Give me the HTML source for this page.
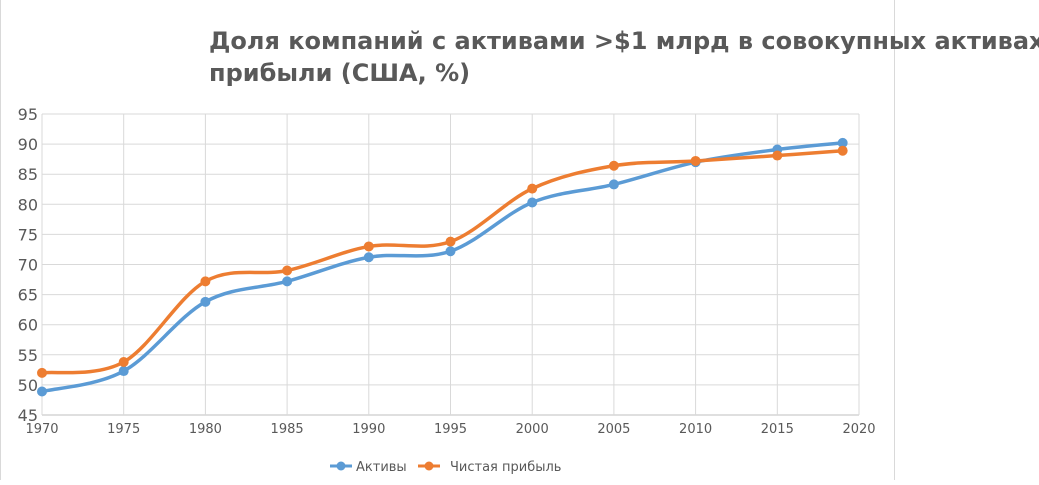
<!DOCTYPE html>
<html><head><meta charset="utf-8"><style>
body{margin:0;background:#fff;font-family:"Liberation Sans","DejaVu Sans",sans-serif;}
svg text{font-family:"DejaVu Sans","Liberation Sans",sans-serif;}
</style></head><body>
<svg width="1039" height="480" xmlns="http://www.w3.org/2000/svg">
<rect x="0" y="0" width="1039" height="480" fill="#fff"/>
<line x1="0.5" y1="0" x2="0.5" y2="480" stroke="#d9d9d9"/>
<line x1="894.5" y1="0" x2="894.5" y2="480" stroke="#d9d9d9"/>
<text x="209" y="49" font-size="24" font-weight="bold" fill="#595959">Доля компаний с активами &gt;$1 млрд в совокупных активах и</text>
<text x="209" y="81" font-size="24" font-weight="bold" fill="#595959">прибыли (США, %)</text>
<g id="grid"></g><g id="axes"></g><g id="series"></g>
<g>
<line x1="330" y1="466" x2="352" y2="466" stroke="#5b9bd5" stroke-width="3"/>
<circle cx="341" cy="466" r="4.5" fill="#5b9bd5"/>
<text x="356" y="471" font-size="13" fill="#595959">Активы</text>
<line x1="418" y1="466" x2="440" y2="466" stroke="#ed7d31" stroke-width="3"/>
<circle cx="429" cy="466" r="4.5" fill="#ed7d31"/>
<text x="450" y="471" font-size="13" fill="#595959">Чистая прибыль</text>
</g>
</svg>
<script>
const years=[1970,1975,1980,1985,1990,1995,2000,2005,2010,2015,2019];
const assets=[48.9,52.3,63.8,67.2,71.2,72.2,80.3,83.3,87.0,89.1,90.2];
const profit=[52.0,53.8,67.2,69.0,73.0,73.8,82.6,86.4,87.2,88.1,88.9];
const xTicks=[1970,1975,1980,1985,1990,1995,2000,2005,2010,2015,2020];
const yTicks=[45,50,55,60,65,70,75,80,85,90,95];
const NS="http://www.w3.org/2000/svg";
const X0=42,X1=859,Y0=415,Y1=114;
const xs=v=>X0+(v-1970)/(2020-1970)*(X1-X0);
const ys=v=>Y0-(v-45)/(95-45)*(Y0-Y1);
function mk(t,a,p){const e=document.createElementNS(NS,t);for(const k in a)e.setAttribute(k,a[k]);p.appendChild(e);return e;}
const grid=document.getElementById('grid'),axes=document.getElementById('axes'),ser=document.getElementById('series');
yTicks.forEach(v=>{
 const l=mk('line',{x1:X0,x2:X1,y1:ys(v),y2:ys(v),stroke:v===45?'#bfbfbf':'#d9d9d9'},grid);
 
 
 const t=mk('text',{x:X0-4,y:ys(v)+6,'text-anchor':'end','font-size':16,fill:'#595959'},axes);
 t.textContent=v;
 
 
});
xTicks.forEach(v=>{
 const l=mk('line',{x1:xs(v),x2:xs(v),y1:Y1,y2:Y0,stroke:'#d9d9d9'},grid);
 
 
 const t=mk('text',{x:xs(v),y:433,'text-anchor':'middle','font-size':13,fill:'#595959'},axes);
 t.textContent=v;
 
 
});
function path(vals){
 const p=years.map((y,i)=>[xs(y),ys(vals[i])]);
 let d='M'+p[0][0]+','+p[0][1];
 for(let i=0;i<p.length-1;i++){
  const a=p[i-1]||p[i],b=p[i],c=p[i+1],e=p[i+2]||c,k=6;
  d+=' C'+(b[0]+(c[0]-a[0])/k)+','+(b[1]+(c[1]-a[1])/k)+' '+(c[0]-(e[0]-b[0])/k)+','+(c[1]-(e[1]-b[1])/k)+' '+c[0]+','+c[1];
 }
 return d;
}
[[assets,'#5b9bd5','assets'],[profit,'#ed7d31','profit']].forEach(([vals,col,nm])=>{
 const g=mk('g',{},ser);
 
 
 const pa=mk('path',{d:path(vals),fill:'none',stroke:col,'stroke-width':3.5},g);
 
 
 vals.forEach((v,i)=>{
  const c=mk('circle',{cx:xs(years[i]),cy:ys(v),r:5,fill:col},g);
  
  
 });
});
</script>
</body></html>
